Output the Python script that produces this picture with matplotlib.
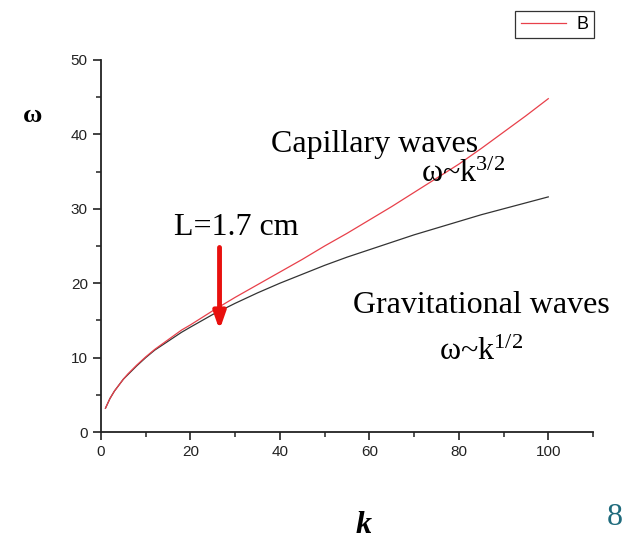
import matplotlib.pyplot as plt
from matplotlib.ticker import MultipleLocator

plt.rcParams['mathtext.fontset'] = 'custom'
plt.rcParams['mathtext.rm'] = 'Liberation Serif'
plt.rcParams['mathtext.it'] = 'Liberation Serif:italic'

# Dispersion curves: wavenumber k vs frequency omega
k = [1, 2, 3, 4, 5, 6, 8, 10, 12, 15, 18, 20, 25, 30, 35, 40, 45, 50,
     55, 60, 65, 70, 75, 80, 85, 90, 95, 100]
omega_grav = [3.2, 4.5, 5.5, 6.3, 7.1, 7.7, 8.9, 10.0, 11.0, 12.2, 13.4, 14.1,
              15.8, 17.3, 18.7, 20.0, 21.2, 22.4, 23.5, 24.5, 25.5, 26.5,
              27.4, 28.3, 29.2, 30.0, 30.8, 31.6]
omega_cap = [3.2, 4.5, 5.5, 6.3, 7.1, 7.8, 9.0, 10.1, 11.1, 12.4, 13.7, 14.4,
             16.3, 18.1, 19.8, 21.5, 23.2, 25.0, 26.7, 28.5, 30.3, 32.2,
             34.1, 36.0, 38.1, 40.3, 42.5, 44.8]

fig = plt.figure(figsize=(6.25, 5.39), dpi=100)
ax = fig.add_axes([0.1616, 0.1985, 0.7872, 0.6902])

ax.plot(k, omega_grav, color='#333333', lw=0.9)
red_line, = ax.plot(k, omega_cap, color='#e8404a', lw=0.9)

ax.set_xlim(0, 110)
ax.set_ylim(0, 50)
ax.xaxis.set_major_locator(MultipleLocator(20))
ax.xaxis.set_minor_locator(MultipleLocator(10))
ax.yaxis.set_major_locator(MultipleLocator(10))
ax.yaxis.set_minor_locator(MultipleLocator(5))
ax.spines['top'].set_visible(False)
ax.spines['right'].set_visible(False)
for s in ('left', 'bottom'):
    ax.spines[s].set_linewidth(1.3)
    ax.spines[s].set_color('#222222')
ax.tick_params(which='major', direction='out', length=6, width=1.2,
               labelsize=11, colors='#222222')
ax.tick_params(which='minor', direction='out', length=3.5, width=1.1,
               colors='#222222')
for lab in ax.get_xticklabels() + ax.get_yticklabels():
    lab.set_fontfamily('Liberation Sans')

serif = 'Liberation Serif'
ax.text(-0.14, 0.85, 'ω', transform=ax.transAxes, fontsize=19,
        fontweight='bold', family=serif, ha='center', va='center')
ax.text(0.533, -0.252, 'k', transform=ax.transAxes, fontsize=23,
        fontweight='bold', style='italic', family=serif, ha='center', va='center')

ax.text(61.2, 37.6, 'Capillary waves', fontsize=23, family=serif,
        ha='center', va='baseline')
ax.text(81, 33.6, r'ω~k$^{3/2}$', fontsize=23, family=serif,
        ha='center', va='baseline')
ax.text(30.2, 26.5, 'L=1.7 cm', fontsize=23, family=serif,
        ha='center', va='baseline')
ax.text(85, 16.0, 'Gravitational waves', fontsize=23, family=serif,
        ha='center', va='baseline')
ax.text(85, 9.7, r'ω~k$^{1/2}$', fontsize=23, family=serif,
        ha='center', va='baseline')

ax.annotate('', xy=(26.5, 13.7), xytext=(26.5, 24.8),
            arrowprops=dict(arrowstyle='-|>,head_width=0.35,head_length=1.0',
                            color='#e8100e', lw=3.5, shrinkA=0, shrinkB=0))

leg = fig.legend([red_line], ['B'], loc='upper right',
                 bbox_to_anchor=(0.965, 0.997), fancybox=False,
                 edgecolor='#333333', framealpha=1,
                 handlelength=2.5, borderpad=0.3, handletextpad=0.6,
                 prop={'family': 'Liberation Sans', 'size': 13})
leg.get_frame().set_linewidth(0.9)

fig.text(0.984, 0.04, '8', fontsize=23, family=serif, color='#1f6b7d',
         ha='center', va='center')

fig.savefig('out.png', dpi=100)
